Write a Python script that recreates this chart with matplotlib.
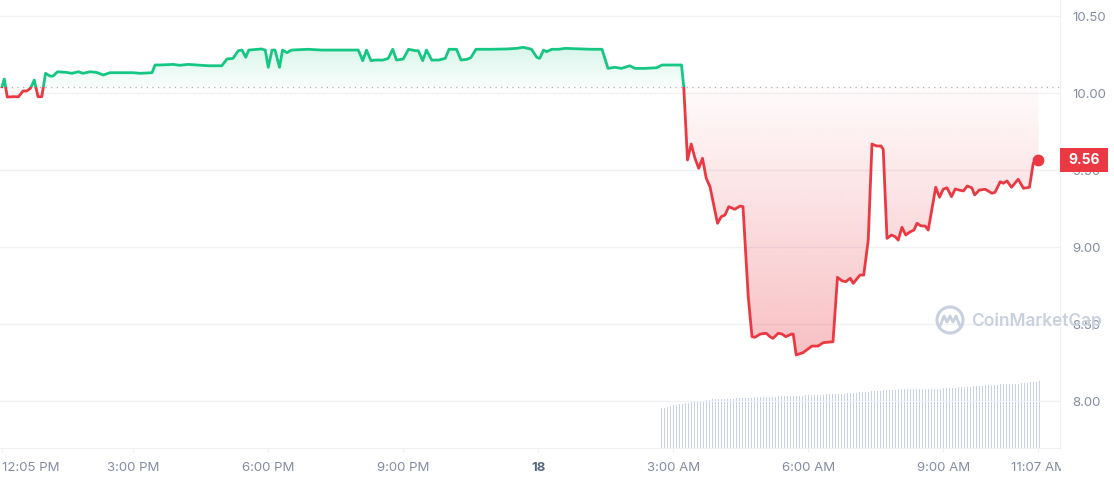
import numpy as np
import matplotlib
matplotlib.use("Agg")
import matplotlib.pyplot as plt
from matplotlib.patches import Rectangle, Ellipse
from matplotlib.path import Path
from matplotlib.lines import Line2D
from matplotlib.colors import to_rgb

plt.rcParams['font.family'] = ['Inter', 'DejaVu Sans']

# minutos desde las 12:05 PM y precio (USD)
minutos = [0, 3, 7, 15, 22, 28, 33, 38, 43, 48, 53, 58, 64, 68, 74, 86, 93, 102, 108, 117,
           126, 135, 144, 157, 175, 184, 200, 204, 211, 228, 237, 248, 275, 293, 300, 308, 315, 320, 325, 329,
           346, 351, 355, 360, 364, 370, 374, 380, 386, 408, 426, 453, 475, 481, 486, 492, 497, 508, 515, 521,
           526, 535, 542, 551, 555, 561, 566, 573, 582, 591, 596, 606, 612, 620, 625, 632, 651, 673, 686, 695,
           706, 713, 717, 722, 726, 733, 742, 751, 786, 800, 808, 817, 826, 837, 844, 857, 873, 880, 906, 909,
           914, 919, 924, 929, 934, 939, 944, 954, 959, 964, 969, 977, 984, 988, 995, 1000, 1004, 1011, 1019, 1024,
           1028, 1035, 1040, 1045, 1053, 1055, 1059, 1068, 1080, 1088, 1095, 1108, 1114, 1120, 1125, 1131, 1135, 1144, 1149, 1155,
           1160, 1166, 1172, 1175, 1180, 1186, 1191, 1195, 1200, 1205, 1211, 1216, 1220, 1225, 1231, 1235, 1245, 1250, 1255, 1260,
           1266, 1271, 1276, 1282, 1287, 1293, 1297, 1303, 1311, 1320, 1324, 1331, 1335, 1340, 1346, 1355, 1362, 1370, 1375, 1382]
precios = [10.041, 10.091, 9.974, 9.976, 9.976, 10.013, 10.013, 10.031, 10.084, 9.976, 9.976, 10.128, 10.110, 10.110, 10.138, 10.134, 10.128, 10.138, 10.128, 10.138,
           10.134, 10.117, 10.132, 10.132, 10.132, 10.128, 10.132, 10.182, 10.182, 10.186, 10.180, 10.186, 10.177, 10.177, 10.221, 10.225, 10.275, 10.279, 10.232, 10.279,
           10.286, 10.279, 10.167, 10.279, 10.279, 10.167, 10.279, 10.262, 10.279, 10.284, 10.279, 10.279, 10.279, 10.210, 10.279, 10.210, 10.214, 10.214, 10.225, 10.284,
           10.214, 10.221, 10.284, 10.275, 10.275, 10.210, 10.279, 10.214, 10.214, 10.225, 10.284, 10.284, 10.214, 10.219, 10.229, 10.284, 10.284, 10.286, 10.290, 10.297,
           10.284, 10.232, 10.225, 10.279, 10.268, 10.284, 10.284, 10.290, 10.284, 10.284, 10.160, 10.167, 10.160, 10.177, 10.160, 10.160, 10.164, 10.182, 10.182, 10.041,
           9.565, 9.669, 9.576, 9.511, 9.576, 9.446, 9.392, 9.154, 9.197, 9.208, 9.262, 9.245, 9.266, 9.262, 8.677, 8.418, 8.414, 8.435, 8.440, 8.418,
           8.407, 8.440, 8.435, 8.418, 8.435, 8.435, 8.299, 8.314, 8.357, 8.357, 8.379, 8.385, 8.803, 8.781, 8.775, 8.797, 8.764, 8.818, 8.818, 9.045,
           9.669, 9.656, 9.656, 9.634, 9.056, 9.078, 9.067, 9.045, 9.128, 9.078, 9.099, 9.110, 9.154, 9.138, 9.136, 9.110, 9.388, 9.323, 9.375, 9.385,
           9.327, 9.377, 9.370, 9.364, 9.396, 9.385, 9.338, 9.370, 9.375, 9.349, 9.355, 9.424, 9.414, 9.429, 9.388, 9.440, 9.381, 9.388, 9.544, 9.565]
precio_base = 10.04

# volumen (millones), una barra cada 4 minutos desde las 2:44 AM
volumen = [4.00, 4.05, 4.14, 4.20, 4.26, 4.32, 4.38, 4.44, 4.50, 4.54,
           4.58, 4.65, 4.68, 4.70, 4.73, 4.76, 4.80, 4.86, 4.88, 4.90,
           4.92, 4.93, 4.94, 4.95, 4.95, 4.96, 4.97, 4.98, 5.00, 5.02,
           5.04, 5.06, 5.08, 5.10, 5.12, 5.13, 5.14, 5.15, 5.15, 5.16,
           5.17, 5.17, 5.18, 5.19, 5.19, 5.20, 5.20, 5.23, 5.26, 5.28,
           5.29, 5.30, 5.32, 5.34, 5.35, 5.37, 5.38, 5.39, 5.40, 5.40,
           5.42, 5.45, 5.48, 5.50, 5.52, 5.54, 5.57, 5.59, 5.62, 5.65,
           5.68, 5.70, 5.72, 5.75, 5.77, 5.79, 5.81, 5.83, 5.85, 5.87,
           5.88, 5.90, 5.90, 5.90, 5.91, 5.91, 5.91, 5.92, 5.92, 5.92,
           5.93, 5.93, 5.93, 5.94, 5.96, 5.98, 6.00, 6.02, 6.05, 6.07,
           6.09, 6.11, 6.13, 6.15, 6.17, 6.19, 6.22, 6.24, 6.26, 6.28,
           6.30, 6.32, 6.34, 6.36, 6.38, 6.40, 6.41, 6.42, 6.43, 6.45,
           6.46, 6.48, 6.52, 6.56, 6.60, 6.64, 6.68]
min_volumen = np.arange(879, 879 + 4 * len(volumen), 4)

pos_x = [0, 175, 355, 535, 715, 895, 1075, 1255, 1382]
etiquetas_x = ['12:05 PM', '3:00 PM', '6:00 PM', '9:00 PM', '18', '3:00 AM', '6:00 AM', '9:00 AM', '11:07 AM']
pos_y = [8.0, 8.5, 9.0, 9.5, 10.0, 10.5]

verde = '#16c784'
rojo = '#ea3943'
gris = '#858ca2'

W, H = 1114, 480
fig = plt.figure(figsize=(W / 100, H / 100), dpi=100)
pos = [0, 32 / H, 1060 / W, 448 / H]
xmin, xmax = -2.7, 1410.7
ymin, ymax = 7.695, 10.604

# eje del volumen (fondo)
axv = fig.add_axes(pos)
axv.bar(min_volumen, volumen, width=1.5, color='#c8d0e1', linewidth=0)
axv.set_xlim(xmin, xmax)
axv.set_ylim(0, 44.8)
axv.axis('off')

ax = fig.add_axes(pos, sharex=axv)
ax.patch.set_visible(False)

t = np.array(minutos)
p = np.array(precios)

# relleno degradado verde (arriba de la base) y rojo (abajo)
sup = ax.fill_between(t, p, precio_base, where=p >= precio_base, interpolate=True,
                      facecolor='none', edgecolor='none')
inf = ax.fill_between(t, p, precio_base, where=p <= precio_base, interpolate=True,
                      facecolor='none', edgecolor='none')

def degradado(color, a_arriba, a_abajo):
    img = np.zeros((256, 1, 4))
    img[:, 0, :3] = to_rgb(color)
    img[:, 0, 3] = np.linspace(a_arriba, a_abajo, 256)
    return img

im_v = ax.imshow(degradado(verde, 0.18, 0.02), extent=[xmin, xmax, precio_base, 10.31],
                 aspect='auto', origin='upper', zorder=1)
im_v.set_clip_path(Path.make_compound_path(*sup.get_paths()), ax.transData)
im_r = ax.imshow(degradado(rojo, 0.02, 0.32), extent=[xmin, xmax, 8.29, precio_base],
                 aspect='auto', origin='upper', zorder=1)
im_r.set_clip_path(Path.make_compound_path(*inf.get_paths()), ax.transData)

# linea de precio con color segun la base
l1, = ax.plot(t, p, color=verde, lw=2.0, zorder=3, solid_joinstyle='round')
l1.set_clip_path(Rectangle((xmin, precio_base), xmax - xmin, 5, transform=ax.transData))
l2, = ax.plot(t, p, color=rojo, lw=2.0, zorder=3, solid_joinstyle='round')
l2.set_clip_path(Rectangle((xmin, 0), xmax - xmin, precio_base, transform=ax.transData))
ax.plot(t[-1], p[-1], 'o', ms=7.5, color=rojo, zorder=4, clip_on=False)

ax.axhline(precio_base, color='#a9b1c2', lw=0.9, ls=(0, (1, 3.5)), zorder=2)

ax.set_xlim(xmin, xmax)
ax.set_ylim(ymin, ymax)

ax.yaxis.tick_right()
ax.set_yticks(pos_y, [f'{v:.2f}' for v in pos_y])
ax.tick_params(axis='y', length=0, pad=9, labelsize=9.5, labelcolor=gris)
ax.grid(axis='y', color='#f0f2f5', lw=1)
ax.set_axisbelow(True)

ax.set_xticks(pos_x, etiquetas_x)
ax.tick_params(axis='x', length=3, color='#eceff3', pad=7, labelsize=9.5, labelcolor=gris)
lbls = ax.get_xticklabels()
lbls[0].set_ha('left')
lbls[4].set_fontweight('bold')
lbls[4].set_color('#58667e')

for s in ['top', 'left']:
    ax.spines[s].set_visible(False)
ax.spines['right'].set_color('#eff2f5')
ax.spines['bottom'].set_color('#eff2f5')

# marca de agua
marca = '#c9d0de'
fig.add_artist(Ellipse((950 / W, 1 - 320 / H), 26 / W, 26 / H, fill=False, lw=2.2,
                       edgecolor=marca, transform=fig.transFigure, zorder=0.5))
px = [940, 944, 947, 950, 953, 956, 960]
py = [326, 316, 322, 316, 322, 316, 326]
fig.add_artist(Line2D([v / W for v in px], [1 - v / H for v in py], lw=2, color=marca,
                      transform=fig.transFigure, zorder=0.5))
fig.text(971 / W, 1 - 321 / H, 'CoinMarketCap', color=marca, fontsize=12.5,
         fontweight='semibold', va='center', ha='left', zorder=0.5)

# recortar la etiqueta final del eje x
fig.add_artist(Rectangle((1061 / W, 0), 53 / W, 30 / H, transform=fig.transFigure,
                         facecolor='white', edgecolor='none', zorder=5))

# recuadro del precio actual
fig.add_artist(Rectangle((1060 / W, 1 - 172 / H), 48 / W, 24 / H, transform=fig.transFigure,
                         facecolor=rojo, edgecolor='none', zorder=6))
fig.text(1084 / W, 1 - 160 / H, '9.56', color='white', fontsize=10, fontweight='bold',
         ha='center', va='center', zorder=7)

fig.savefig('out.png', dpi=100)
